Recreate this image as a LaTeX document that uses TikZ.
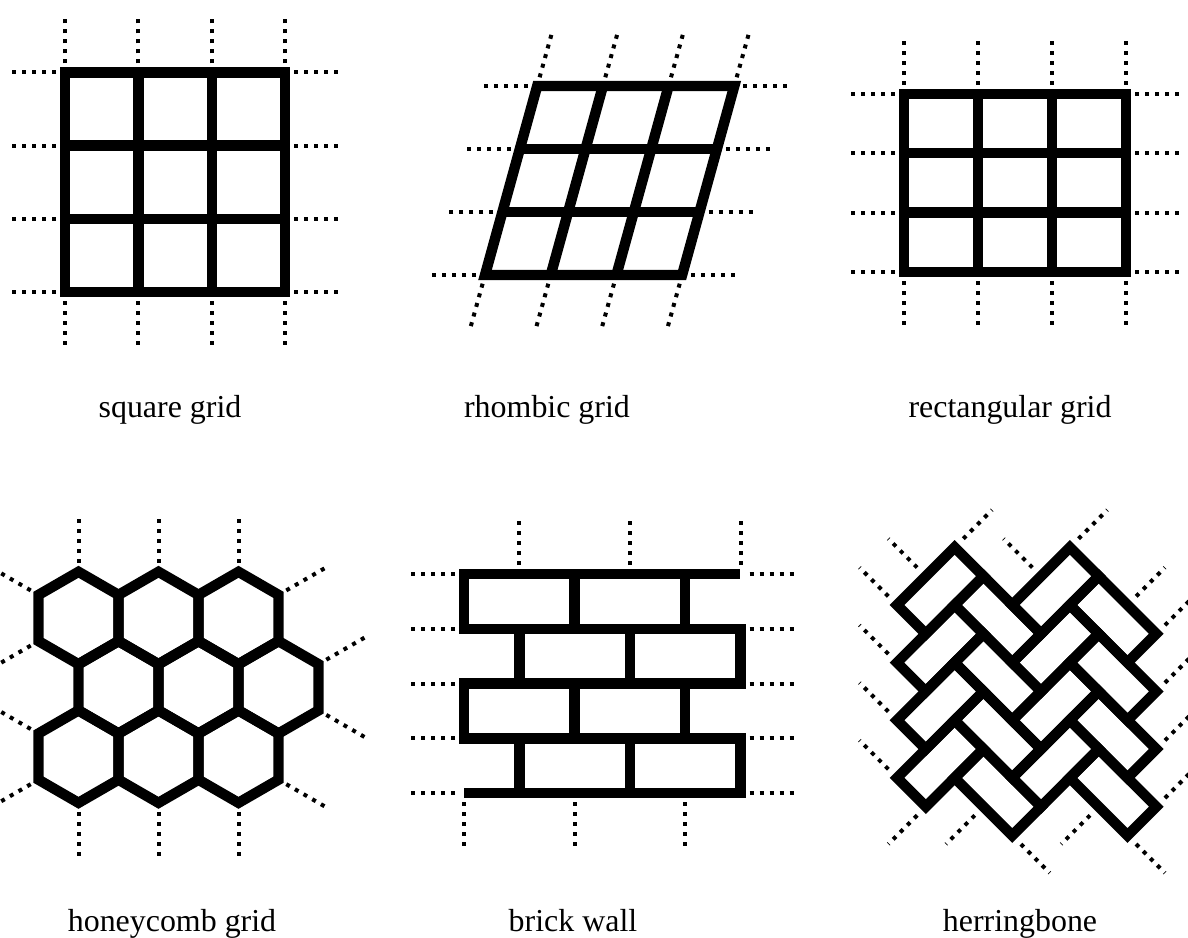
\documentclass[tikz,border=0pt]{standalone}
\usepackage{fontspec}
\setmainfont{Liberation Serif}
\usepackage{tikz}
\usetikzlibrary{calc}
\definecolor{tileblack}{HTML}{000000}

\begin{document}
\begin{tikzpicture}[x=0.025cm, y=-0.025cm,
    solidln/.style={tileblack, line width=0.26cm, line join=miter},
    dotln/.style={tileblack, line width=0.1cm, dash pattern=on 0.1cm off 0.15cm},
    lbl/.style={anchor=base, font=\fontsize{22.7}{27}\selectfont}]
  \useasboundingbox (0,0) rectangle (1188,938);
  \clip (0,0) rectangle (1188,938);
  \fill[white] (0,0) rectangle (1188,938);

  % square grid
  \draw[solidln] (65,72.5) rectangle (285,292);
  \foreach \x in {138.3,211.7} \draw[solidln] (\x,72.5) -- (\x,292);
  \foreach \y in {145.7,218.8} \draw[solidln] (65,\y) -- (285,\y);
  \foreach \i [evaluate=\i as \x using 65+73.33*\i, evaluate=\i as \y using 72.5+73.17*\i] in {0,...,3} {
    \draw[dotln] (\x,63.5) -- (\x,18.5);
    \draw[dotln] (\x,301) -- (\x,346);
    \draw[dotln] (56,\y) -- (11,\y);
    \draw[dotln] (294,\y) -- (339,\y);
  }

  % rhombic grid
  \draw[solidln] (485,275) -- (682.1,275) -- (734.3,86) -- (537.2,86) -- cycle;
  \foreach \c in {1,2} \draw[solidln] (485+65.7*\c,275) -- (537.2+65.7*\c,86);
  \foreach \r in {1,2} \draw[solidln] (485+17.4*\r,275-63*\r) -- (682.1+17.4*\r,275-63*\r);
  \foreach \r in {0,...,3} {
    \draw[dotln] (476+17.4*\r,275-63*\r) -- (431+17.4*\r,275-63*\r);
    \draw[dotln] (691.1+17.4*\r,275-63*\r) -- (736.1+17.4*\r,275-63*\r);
  }
  \foreach \c in {0,...,3} {
    \draw[dotln] (539.6+65.7*\c,77.3) -- (551.6+65.7*\c,34);
    \draw[dotln] (482.6+65.7*\c,283.7) -- (470.6+65.7*\c,327);
  }

  % rectangular grid
  \draw[solidln] (904,94) rectangle (1126,272);
  \foreach \x in {978,1052} \draw[solidln] (\x,94) -- (\x,272);
  \foreach \y in {153.3,212.7} \draw[solidln] (904,\y) -- (1126,\y);
  \foreach \i [evaluate=\i as \x using 904+74*\i, evaluate=\i as \y using 94+59.33*\i] in {0,...,3} {
    \draw[dotln] (\x,85) -- (\x,40);
    \draw[dotln] (\x,281) -- (\x,326);
    \draw[dotln] (895,\y) -- (850,\y);
    \draw[dotln] (1135,\y) -- (1180,\y);
  }

  % honeycomb grid
  \foreach \r in {0,1,2} \foreach \k in {0,1,2} {
    \pgfmathsetmacro\cx{78.5+80*\k+40*mod(\r,2)}
    \pgfmathsetmacro\cy{618+69.3*\r}
    \draw[solidln] (\cx,\cy) +(90:46.2) -- +(30:46.2) -- +(-30:46.2) -- +(-90:46.2)
      -- +(-150:46.2) -- +(150:46.2) -- cycle;
  }
  \foreach \k in {0,1,2} {
    \draw[dotln] (78.5+80*\k,562.8) -- (78.5+80*\k,517.8);
    \draw[dotln] (78.5+80*\k,811.8) -- (78.5+80*\k,856.8);
  }
  \foreach \px/\py/\ang in {38.5/594.9/210, 38.5/641.1/150, 38.5/733.5/210, 38.5/779.7/150,
      278.5/594.9/-30, 318.5/664.2/-30, 318.5/710.4/30, 278.5/779.7/30}
    \draw[dotln] (\px,\py) ++(\ang:9) -- ++(\ang:45);

  % brick wall
  \draw[solidln, line cap=rect] (464,574) -- (735,574);
  \foreach \y in {628.8,683.6,738.4} \draw[solidln, line cap=rect] (464,\y) -- (740.5,\y);
  \draw[solidln, line cap=rect] (469,793.2) -- (740.5,793.2);
  \foreach \y in {574,628.8,683.6,738.4,793.2} {
    \draw[dotln] (455,\y) -- (410,\y);
    \draw[dotln] (749.5,\y) -- (794.5,\y);
  }
  \foreach \ya/\yb in {574/628.8, 683.6/738.4}
    \foreach \x in {464,574.6,685.2} \draw[solidln, line cap=rect] (\x,\ya) -- (\x,\yb);
  \foreach \ya/\yb in {628.8/683.6, 738.4/793.2}
    \foreach \x in {519.3,629.9,740.5} \draw[solidln, line cap=rect] (\x,\ya) -- (\x,\yb);
  \foreach \x in {519.3,629.9,740.5} \draw[dotln] (\x,565) -- (\x,520);
  \foreach \x in {464,574.6,685.2} \draw[dotln] (\x,802.2) -- (\x,847.2);

  % herringbone
  \begin{scope}[shift={(897,605)}, x={(0.72cm,0.72cm)}, y={(0.72cm,-0.72cm)}]
    \foreach \j in {0,1} \foreach \k in {0,...,3} {
      \draw[solidln] (2*\j-\k,2*\j+\k) -- ++(2,0) -- ++(0,1) -- ++(-2,0) -- cycle;
      \draw[solidln] (2*\j+1-\k,2*\j+1+\k) -- ++(1,0) -- ++(0,2) -- ++(-1,0) -- cycle;
    }
    \foreach \k in {0,...,3} {
      \draw[dotln] (-\k,\k-0.3) -- (-\k,\k-1.3);
      \draw[dotln] (4.3-\k,5+\k) -- (5.3-\k,5+\k);
    }
    \draw[dotln] (1,-0.3) -- (1,-1.3);
    \draw[dotln] (3,1.7) -- (3,0.7);
    \draw[dotln] (2.3,0) -- (3.3,0);
    \draw[dotln] (4.3,2) -- (5.3,2);
    \draw[dotln] (4.3,4) -- (5.3,4);
    \draw[dotln] (-3.3,4) -- (-4.3,4);
    \draw[dotln] (-2.3,5) -- (-3.3,5);
    \draw[dotln] (-2,6.3) -- (-2,7.3);
    \draw[dotln] (-0.3,7) -- (-1.3,7);
    \draw[dotln] (0,8.3) -- (0,9.3);
  \end{scope}

  % labels
  \node[lbl] (sqlbl) at (170,417) {square grid};
  \node[lbl] (rhlbl) at (547,417) {rhombic grid};
  \node[lbl] (relbl) at (1010,417) {rectangular grid};
  \node[lbl] (hclbl) at (172,931) {honeycomb grid};
  \node[lbl] (bwlbl) at (573,931) {brick wall};
  \node[lbl] (hblbl) at (1020,931) {herringbone};
\end{tikzpicture}
\end{document}
